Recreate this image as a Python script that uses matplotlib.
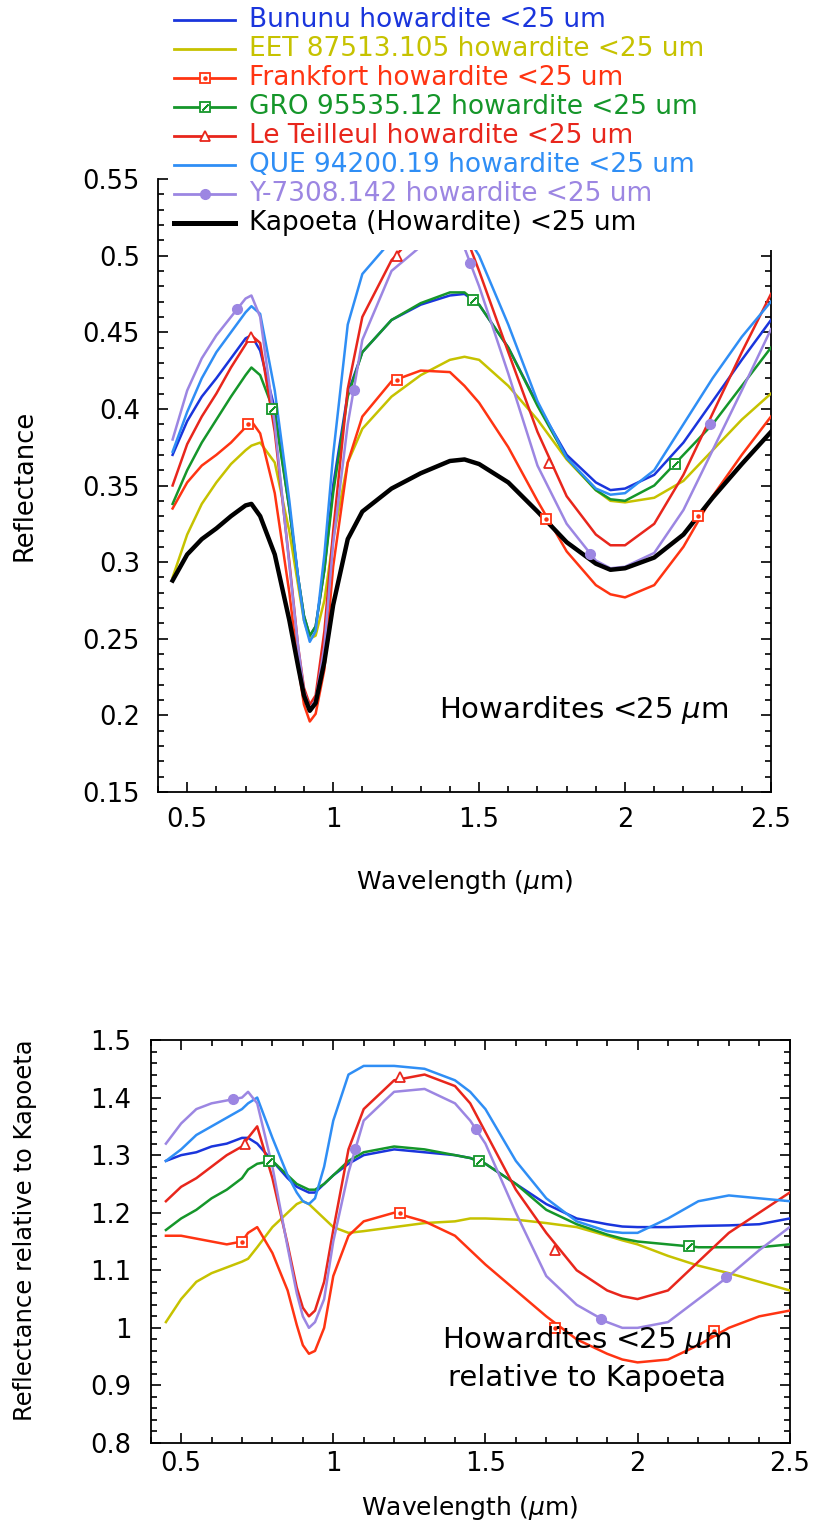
import numpy as np
import matplotlib
matplotlib.use("Agg")
import matplotlib.pyplot as plt
from matplotlib.ticker import MultipleLocator, FuncFormatter
from matplotlib.lines import Line2D
from matplotlib.patches import Rectangle

plt.rcParams['font.family'] = ['DejaVu Sans']
plt.rcParams['mathtext.fontset'] = 'dejavusans'

# ---------------- data ----------------
wavelength = [0.45, 0.5, 0.55, 0.6, 0.65, 0.7, 0.72, 0.75, 0.8, 0.85, 0.88, 0.9, 0.92, 0.94,
              0.97, 1.0, 1.05, 1.1, 1.2, 1.3, 1.4, 1.45, 1.5, 1.6, 1.7, 1.8, 1.9, 1.95, 2.0,
              2.1, 2.2, 2.3, 2.4, 2.5]

labels = ["Bununu howardite <25 um", "EET 87513.105 howardite <25 um",
          "Frankfort howardite <25 um", "GRO 95535.12 howardite <25 um",
          "Le Teilleul howardite <25 um", "QUE 94200.19 howardite <25 um",
          "Y-7308.142 howardite <25 um", "Kapoeta (Howardite) <25 um"]

# reflectance (top panel)
refl_bununu = [.370, .392, .408, .420, .433, .446, .448, .438, .400, .335, .290, .265, .252, .258,
               .295, .350, .410, .437, .458, .468, .474, .475, .468, .440, .403, .370, .352, .347,
               .348, .357, .378, .405, .432, .458]
refl_eet = [.290, .318, .338, .352, .364, .373, .376, .378, .365, .320, .285, .262, .250, .252,
            .275, .315, .365, .387, .408, .422, .432, .434, .432, .415, .393, .367, .347, .340,
            .339, .342, .353, .373, .393, .410]
refl_frankfort = [.335, .352, .363, .370, .378, .388, .392, .384, .345, .280, .232, .207, .196, .201,
                  .230, .297, .365, .395, .418, .425, .424, .415, .404, .375, .340, .307, .285, .279,
                  .277, .285, .310, .343, .370, .395]
refl_gro = [.338, .360, .378, .393, .408, .422, .427, .422, .397, .335, .290, .265, .252, .258,
            .295, .345, .408, .437, .458, .469, .476, .476, .468, .440, .402, .368, .347, .341,
            .340, .350, .370, .390, .415, .440]
refl_teilleul = [.350, .377, .395, .410, .427, .442, .448, .443, .385, .300, .245, .218, .207, .213,
                 .255, .320, .413, .460, .497, .518, .522, .515, .490, .437, .385, .343, .318, .311,
                 .311, .325, .357, .397, .437, .475]
refl_que = [.372, .398, .420, .437, .450, .463, .467, .462, .412, .340, .290, .262, .248, .255,
            .305, .370, .455, .488, .510, .522, .525, .515, .500, .455, .405, .368, .348, .344,
            .345, .360, .390, .420, .447, .470]
refl_y7308 = [.380, .412, .433, .448, .460, .472, .474, .460, .390, .298, .245, .216, .204, .210,
              .245, .312, .390, .445, .490, .506, .510, .505, .480, .423, .363, .325, .301, .296,
              .297, .306, .334, .373, .412, .452]
refl_kapoeta = [.288, .305, .315, .322, .330, .337, .338, .330, .305, .262, .232, .213, .203, .208,
                .235, .272, .315, .333, .348, .358, .366, .367, .364, .352, .333, .313, .299, .295,
                .296, .303, .318, .342, .364, .385]

# reflectance relative to Kapoeta (bottom panel)
rel_bununu = [1.29, 1.30, 1.305, 1.315, 1.32, 1.33, 1.33, 1.32, 1.29, 1.26, 1.245, 1.24, 1.235, 1.235,
              1.25, 1.265, 1.285, 1.30, 1.31, 1.305, 1.30, 1.295, 1.285, 1.25, 1.215, 1.19, 1.18, 1.176,
              1.175, 1.175, 1.177, 1.178, 1.18, 1.19]
rel_eet = [1.01, 1.05, 1.08, 1.095, 1.105, 1.115, 1.12, 1.14, 1.175, 1.20, 1.215, 1.22, 1.215, 1.205,
           1.19, 1.175, 1.165, 1.168, 1.175, 1.182, 1.185, 1.19, 1.19, 1.188, 1.182, 1.175, 1.16, 1.152,
           1.145, 1.125, 1.108, 1.095, 1.08, 1.065]
rel_frankfort = [1.16, 1.16, 1.155, 1.15, 1.145, 1.15, 1.165, 1.175, 1.13, 1.065, 1.005, 0.97, 0.955, 0.96,
                 1.0, 1.09, 1.16, 1.185, 1.20, 1.185, 1.16, 1.135, 1.11, 1.065, 1.02, 0.98, 0.955, 0.945,
                 0.94, 0.945, 0.97, 1.0, 1.02, 1.03]
rel_gro = [1.17, 1.19, 1.205, 1.225, 1.24, 1.26, 1.275, 1.285, 1.29, 1.265, 1.25, 1.245, 1.24, 1.24,
           1.25, 1.265, 1.29, 1.305, 1.315, 1.31, 1.30, 1.295, 1.285, 1.25, 1.205, 1.18, 1.162, 1.155,
           1.15, 1.145, 1.14, 1.14, 1.14, 1.145]
rel_teilleul = [1.22, 1.245, 1.26, 1.28, 1.30, 1.315, 1.33, 1.35, 1.26, 1.145, 1.07, 1.035, 1.02, 1.03,
                1.08, 1.17, 1.31, 1.38, 1.43, 1.44, 1.42, 1.39, 1.34, 1.24, 1.165, 1.10, 1.065, 1.055,
                1.05, 1.065, 1.115, 1.165, 1.20, 1.235]
rel_que = [1.29, 1.31, 1.335, 1.35, 1.365, 1.38, 1.39, 1.40, 1.33, 1.265, 1.235, 1.22, 1.215, 1.225,
           1.28, 1.36, 1.44, 1.455, 1.455, 1.45, 1.43, 1.41, 1.38, 1.29, 1.225, 1.185, 1.168, 1.165,
           1.165, 1.19, 1.22, 1.23, 1.225, 1.22]
rel_y7308 = [1.32, 1.355, 1.38, 1.39, 1.395, 1.40, 1.41, 1.39, 1.28, 1.14, 1.06, 1.02, 1.00, 1.01,
             1.05, 1.15, 1.27, 1.36, 1.41, 1.415, 1.39, 1.36, 1.32, 1.20, 1.09, 1.04, 1.01, 1.0,
             1.0, 1.01, 1.05, 1.09, 1.135, 1.175]

# marker positions (wavelength, value)
mk_top_frankfort_w = [0.71, 1.22, 1.73, 2.25]
mk_top_frankfort_v = [0.390, 0.419, 0.328, 0.330]
mk_top_gro_w = [0.79, 1.48, 2.17]
mk_top_gro_v = [0.400, 0.471, 0.364]
mk_top_teilleul_w = [0.72, 1.22, 1.74]
mk_top_teilleul_v = [0.447, 0.500, 0.365]
mk_top_y7308_w = [0.67, 1.07, 1.47, 1.88, 2.29]
mk_top_y7308_v = [0.465, 0.412, 0.495, 0.305, 0.390]

mk_bot_frankfort_w = [0.70, 1.22, 1.73, 2.25]
mk_bot_frankfort_v = [1.150, 1.200, 1.000, 0.995]
mk_bot_gro_w = [0.79, 1.48, 2.17]
mk_bot_gro_v = [1.290, 1.290, 1.142]
mk_bot_teilleul_w = [0.71, 1.22, 1.73]
mk_bot_teilleul_v = [1.320, 1.435, 1.135]
mk_bot_y7308_w = [0.67, 1.07, 1.47, 1.88, 2.29]
mk_bot_y7308_v = [1.397, 1.310, 1.345, 1.015, 1.088]

colors = ["#1a35dc", "#c6c200", "#ff3412", "#15962a", "#e8261c", "#2f8ef5", "#9c86e2", "#000000"]

# ---------------- layout ----------------
W, H = 814, 1529
fig = plt.figure(figsize=(W / 100, H / 100), dpi=100)


def fx(px):
    return px / W


def fy(py):
    return 1 - py / H


ax1 = fig.add_axes([fx(158), fy(792), fx(771) - fx(158), fy(179) - fy(792)])
ax2 = fig.add_axes([fx(150.7), fy(1443), fx(789.7) - fx(150.7), fy(1040) - fy(1443)])

top_series = [refl_bununu, refl_eet, refl_frankfort, refl_gro, refl_teilleul, refl_que, refl_y7308,
              refl_kapoeta]
bot_series = [rel_bununu, rel_eet, rel_frankfort, rel_gro, rel_teilleul, rel_que, rel_y7308]

for i, s in enumerate(top_series):
    ax1.plot(wavelength, s, color=colors[i], lw=3.2 if i == 7 else 1.8, zorder=3 + (i == 7))
for i, s in enumerate(bot_series):
    ax2.plot(wavelength, s, color=colors[i], lw=1.8, zorder=3)


def draw_markers(ax, fw, fv, gw, gv, tw, tv, yw, yv):
    ax.plot(fw, fv, ls='none', marker='s', ms=7, mfc='white', mec=colors[2], mew=1.3, zorder=6)
    ax.plot(fw, fv, ls='none', marker='o', ms=2.2, mfc=colors[2], mec=colors[2], zorder=7)
    ax.plot(gw, gv, ls='none', marker='s', ms=7, mfc='white', mec=colors[3], mew=1.3, zorder=6)
    ax.plot(gw, gv, ls='none', marker=(2, 2, -45), ms=6, mec=colors[3], mew=1.2, zorder=7)
    ax.plot(tw, tv, ls='none', marker='^', ms=7.5, mfc='white', mec=colors[4], mew=1.3, zorder=6)
    ax.plot(yw, yv, ls='none', marker='o', ms=7, mfc=colors[6], mec=colors[6], zorder=6)


draw_markers(ax1, mk_top_frankfort_w, mk_top_frankfort_v, mk_top_gro_w, mk_top_gro_v,
             mk_top_teilleul_w, mk_top_teilleul_v, mk_top_y7308_w, mk_top_y7308_v)
draw_markers(ax2, mk_bot_frankfort_w, mk_bot_frankfort_v, mk_bot_gro_w, mk_bot_gro_v,
             mk_bot_teilleul_w, mk_bot_teilleul_v, mk_bot_y7308_w, mk_bot_y7308_v)

fmt = FuncFormatter(lambda v, p: f"{v:g}")

ax1.set_xlim(0.4, 2.5)
ax1.set_ylim(0.15, 0.55)
ax1.xaxis.set_major_locator(MultipleLocator(0.5))
ax1.xaxis.set_minor_locator(MultipleLocator(0.1))
ax1.yaxis.set_major_locator(MultipleLocator(0.05))
ax1.yaxis.set_minor_locator(MultipleLocator(0.01))
ax1.spines['top'].set_visible(False)
ax1.tick_params(which='both', direction='in', left=True, right=True, top=False, bottom=True,
                width=1.2, labelsize=18.5)
ax1.tick_params(which='major', length=7)
ax1.tick_params(which='minor', length=4)
ax1.tick_params(axis='x', which='major', pad=11)
ax1.tick_params(axis='y', which='major', pad=13)

ax2.set_xlim(0.4, 2.5)
ax2.set_ylim(0.8, 1.5)
ax2.xaxis.set_major_locator(MultipleLocator(0.5))
ax2.xaxis.set_minor_locator(MultipleLocator(0.1))
ax2.yaxis.set_major_locator(MultipleLocator(0.1))
ax2.yaxis.set_minor_locator(MultipleLocator(0.02))
ax2.tick_params(which='both', direction='in', left=True, right=True, top=True, bottom=True,
                width=1.2, labelsize=18.5)
ax2.tick_params(which='major', length=7)
ax2.tick_params(which='minor', length=4)
ax2.tick_params(axis='x', which='major', pad=6)
ax2.tick_params(axis='y', which='major', pad=14)

for ax in (ax1, ax2):
    ax.xaxis.set_major_formatter(fmt)
    ax.yaxis.set_major_formatter(fmt)
    for sp in ax.spines.values():
        sp.set_linewidth(1.3)

# axis labels
fig.text(fx(465), fy(882), r"Wavelength ($\mu$m)", fontsize=18, ha='center', va='center')
fig.text(fx(470), fy(1508), r"Wavelength ($\mu$m)", fontsize=18, ha='center', va='center')
fig.text(fx(25), fy(485.5), "Reflectance", fontsize=18.5, rotation=90, ha='center', va='center')
fig.text(fx(25), fy(1230), "Reflectance relative to Kapoeta", fontsize=17.5, rotation=90,
         ha='center', va='center')

# in-plot annotations
fig.text(fx(584), fy(710), r"Howardites <25 $\mu$m", fontsize=21, ha='center', va='center')
fig.text(fx(587), fy(1340), r"Howardites <25 $\mu$m", fontsize=21, ha='center', va='center')
fig.text(fx(587), fy(1378), "relative to Kapoeta", fontsize=21, ha='center', va='center')

# white block behind the legend (covers the top of the upper panel)
fig.add_artist(Rectangle((fx(168), fy(250)), fx(814) - fx(168), fy(0) - fy(250),
                         transform=fig.transFigure, facecolor='white', edgecolor='none', zorder=4))

# legend
for i, lab in enumerate(labels):
    yc = fy(20 + 29 * i)
    fig.add_artist(Line2D([fx(174), fx(235)], [yc, yc], transform=fig.transFigure,
                          color=colors[i], lw=3.6 if i == 7 else 2.0, zorder=5))
    xm = fx(205)
    if i == 2:
        fig.add_artist(Line2D([xm], [yc], transform=fig.transFigure, ls='none', marker='s', ms=7,
                              mfc='white', mec=colors[i], mew=1.3, zorder=6))
        fig.add_artist(Line2D([xm], [yc], transform=fig.transFigure, ls='none', marker='o', ms=2.2,
                              mfc=colors[i], mec=colors[i], zorder=7))
    elif i == 3:
        fig.add_artist(Line2D([xm], [yc], transform=fig.transFigure, ls='none', marker='s', ms=7,
                              mfc='white', mec=colors[i], mew=1.3, zorder=6))
        fig.add_artist(Line2D([xm], [yc], transform=fig.transFigure, ls='none', marker=(2, 2, -45),
                              ms=6, mec=colors[i], mew=1.2, zorder=7))
    elif i == 4:
        fig.add_artist(Line2D([xm], [yc], transform=fig.transFigure, ls='none', marker='^', ms=7.5,
                              mfc='white', mec=colors[i], mew=1.3, zorder=6))
    elif i == 6:
        fig.add_artist(Line2D([xm], [yc], transform=fig.transFigure, ls='none', marker='o', ms=7,
                              mfc=colors[i], mec=colors[i], zorder=6))
    t = fig.text(fx(249), yc, lab, fontsize=19, color=colors[i], ha='left', va='center')
    t.set_zorder(6)

fig.savefig("out.png", dpi=100, facecolor='white')
